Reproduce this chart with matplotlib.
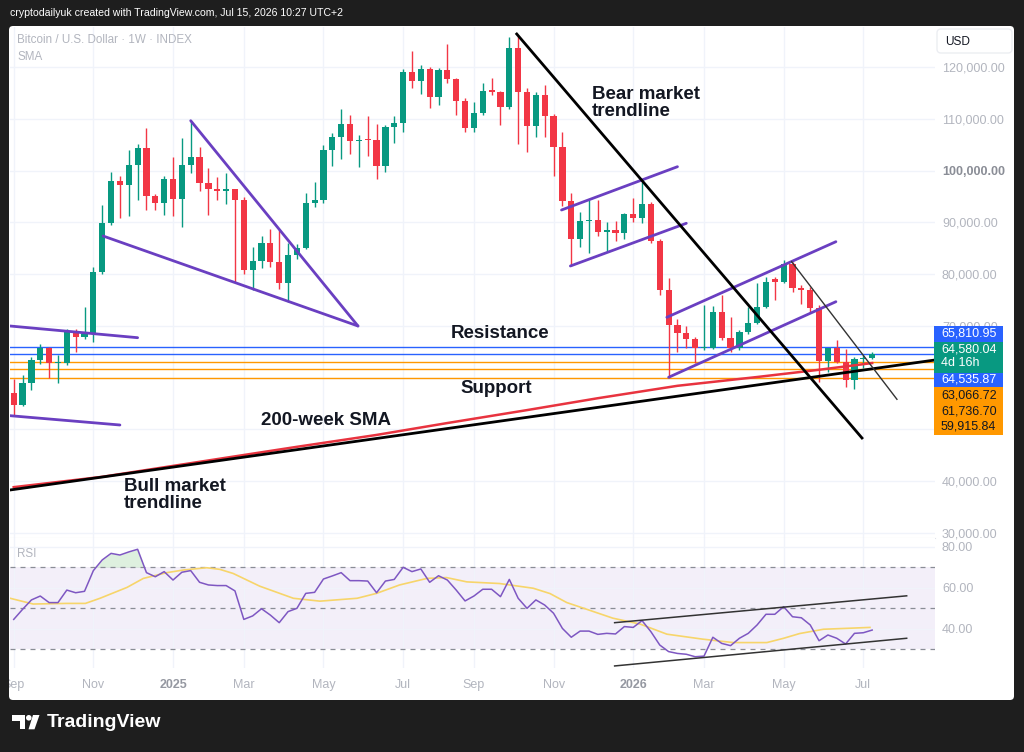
import matplotlib
matplotlib.use('Agg')
import matplotlib.pyplot as plt
from matplotlib.patches import FancyBboxPatch, Rectangle, Circle, Polygon
import numpy as np

plt.rcParams['font.family'] = ['Liberation Sans', 'DejaVu Sans']

# weekly candles, first bar = week of 2 Sep 2024
o = [57.1, 54.7, 59.0, 63.4, 65.65, 62.75, 62.9, 69.05, 67.8, 68.4,
     80.35, 89.8, 98.0, 97.2, 101.2, 104.45, 95.1, 93.7, 98.4, 94.5,
     101.2, 102.6, 97.7, 96.4, 96.1, 96.4, 94.3, 80.7, 82.5, 86.0,
     82.3, 78.3, 83.7, 85.0, 93.7, 94.3, 104.1, 106.6, 109.0, 105.7,
     106.0, 105.9, 101.0, 108.4, 109.3, 119.1, 117.4, 119.6, 114.3, 119.5,
     117.7, 113.5, 108.2, 111.2, 115.4, 115.3, 112.3, 123.7, 115.3, 108.6,
     114.6, 110.6, 104.6, 94.2, 86.7, 90.3, 90.5, 88.2, 88.5, 87.9,
     91.6, 90.9, 93.6, 86.5, 76.9, 70.2, 68.6, 67.4, 65.65, 65.8,
     72.7, 67.6, 65.65, 68.9, 70.6, 73.7, 79.0, 78.5, 82.0, 77.3,
     76.9, 73.4, 63.25, 65.65, 63.06, 59.5, 63.5, 63.7]
h = [59.7, 60.5, 64.0, 66.5, 65.9, 64.4, 69.3, 69.4, 73.6, 81.4,
     93.4, 99.7, 99.0, 104.0, 105.2, 108.3, 95.5, 99.0, 102.7, 106.3,
     109.7, 104.6, 100.6, 98.7, 99.5, 96.5, 95.0, 85.3, 87.4, 88.7,
     88.5, 86.0, 85.9, 95.6, 97.9, 105.0, 107.3, 111.9, 110.8, 106.9,
     110.6, 109.0, 108.8, 110.6, 119.7, 123.2, 120.4, 120.0, 119.8, 124.5,
     117.9, 114.0, 113.3, 116.9, 118.0, 115.5, 125.9, 126.0, 115.9, 115.3,
     116.6, 111.0, 107.4, 95.7, 92.0, 94.3, 94.3, 90.1, 90.3, 91.9,
     94.7, 97.9, 93.9, 86.7, 79.2, 71.3, 70.0, 67.8, 74.1, 73.8,
     76.0, 71.8, 69.2, 73.7, 78.2, 79.4, 79.5, 82.7, 82.3, 77.9,
     77.6, 74.0, 65.8, 67.3, 65.5, 63.9, 64.4, 65.0]
l = [52.8, 54.5, 57.5, 62.6, 59.9, 58.9, 62.4, 65.0, 67.4, 66.9,
     80.0, 89.5, 90.8, 91.2, 94.3, 92.4, 92.4, 91.4, 91.2, 89.2,
     99.6, 96.1, 91.4, 94.3, 93.6, 78.5, 80.1, 76.9, 81.1, 81.4,
     77.1, 74.6, 83.0, 84.8, 93.0, 93.7, 100.9, 102.2, 103.2, 100.7,
     102.8, 98.4, 99.8, 105.3, 107.5, 115.9, 114.8, 112.1, 112.7, 116.9,
     110.8, 107.5, 107.4, 110.8, 114.6, 108.8, 111.9, 105.2, 103.7, 106.6,
     106.6, 99.0, 93.2, 81.6, 85.3, 84.0, 87.4, 84.5, 86.5, 86.7,
     90.1, 89.9, 86.0, 76.0, 59.9, 65.0, 65.7, 62.8, 65.3, 65.6,
     67.3, 65.0, 65.3, 68.5, 70.3, 73.5, 74.9, 78.3, 76.6, 74.2,
     72.7, 59.2, 61.1, 62.75, 58.1, 57.7, 61.8, 63.5]
c = [54.7, 59.0, 63.4, 65.65, 62.75, 62.9, 69.05, 67.8, 68.4, 80.35,
     89.8, 98.0, 97.2, 101.2, 104.45, 95.1, 93.7, 98.4, 94.5, 101.2,
     102.6, 97.7, 96.4, 96.1, 96.4, 94.3, 80.7, 82.5, 86.0, 82.3,
     78.3, 83.7, 85.0, 93.7, 94.3, 104.1, 106.6, 109.0, 105.7, 106.0,
     105.9, 101.0, 108.4, 109.3, 119.1, 117.4, 119.6, 114.3, 119.5, 117.7,
     113.5, 108.2, 111.2, 115.4, 115.3, 112.3, 123.7, 115.3, 108.6, 114.6,
     110.6, 104.6, 94.2, 86.7, 90.3, 90.5, 88.2, 88.5, 87.9, 91.6,
     90.9, 93.6, 86.5, 76.9, 70.2, 68.6, 67.4, 65.65, 65.8, 72.7,
     67.6, 65.65, 68.9, 70.6, 73.7, 78.5, 78.5, 82.0, 77.3, 76.9,
     73.4, 63.25, 65.65, 63.06, 59.5, 63.5, 63.7, 64.58004]

# 200-week SMA read at a few bars
sma_bar = [0, 10, 21, 32, 41, 49, 58, 66, 75, 84, 91, 97]
sma_val = [38800, 40800, 43700, 46600, 48900, 51200, 53700, 56000, 58400, 60100, 61500, 62800]

# RSI (14) and its moving average
rsi = [44.6, 49.5, 54.1, 56.0, 52.8, 52.8, 58.9, 57.6, 58.3, 68.4,
       73.6, 76.8, 76.0, 77.5, 78.8, 67.4, 65.4, 67.9, 63.8, 67.6,
       68.4, 62.7, 61.4, 61.1, 61.1, 58.5, 44.6, 46.3, 49.8, 46.7,
       43.0, 48.4, 50.0, 57.3, 57.8, 64.3, 65.8, 67.4, 63.5, 63.5,
       63.3, 57.6, 63.3, 64.1, 70.0, 67.9, 69.2, 62.7, 65.9, 63.8,
       58.9, 53.6, 56.0, 59.3, 59.3, 55.7, 64.1, 54.9, 50.0, 54.1,
       51.6, 47.6, 40.2, 35.9, 38.9, 38.9, 37.3, 37.8, 37.5, 41.1,
       40.7, 44.0, 38.6, 32.1, 28.9, 28.0, 27.6, 26.4, 26.7, 35.9,
       32.9, 31.8, 35.4, 37.8, 41.9, 47.1, 47.1, 50.8, 45.9, 45.4,
       41.9, 34.2, 37.0, 35.4, 32.6, 37.8, 38.1, 39.4]
rsi_ma_bar = [-0.4, 2.2, 6.0, 8.1, 9.75, 12.8, 14.65, 17.3, 19.2, 21.8, 23.3, 24.8,
              27.8, 31.6, 34.6, 38.8, 41.0, 43.6, 46.7, 48.9, 51.2, 54.9, 58.7,
              60.6, 62.5, 64.7, 67.7, 70.8, 73.8, 77.8, 81.3, 85.1, 87.0, 88.8,
              91.5, 94.5, 96.75]
rsi_ma_val = [54.9, 52.1, 52.4, 52.4, 54.9, 60.2, 64.6, 67.4, 68.7, 69.8, 69.0, 67.0,
              60.8, 54.9, 53.5, 54.9, 57.3, 61.4, 64.6, 65.0, 62.9, 62.1, 59.8,
              57.2, 52.8, 49.6, 45.2, 42.3, 37.4, 35.0, 33.3, 33.3, 35.4, 37.7,
              39.8, 40.3, 40.7]

# horizontal levels
blue_levels = [65810.95, 64535.87]
orange_levels = [63066.72, 61736.70, 59915.84]
last_price = 64580.04

# drawings (bar index, price)
purple_lines = [
    [(-0.42, 69966), (14.0, 67704)],
    [(-0.42, 52620), (12.0, 50820)],
    [(20.0, 109671), (38.9, 69966)],
    [(10.1, 87372), (38.9, 69966)],
    [(61.9, 92401), (75.0, 100775)],
    [(62.9, 81570), (76.0, 89829)],
    [(73.8, 71650), (92.9, 86270)],
    [(74.0, 60046), (92.9, 74666)],
]
bear_line = [(56.84, 126439), (95.85, 48305)]
bull_line = [(-0.42, 38249), (104.1, 63391)]
thin_line = [(87.9, 82402), (99.8, 55790)]
rsi_lines = [[(67.9, 43.0), (100.9, 56.1)], [(67.9, 21.9), (100.9, 35.4)]]

month_bars = [0, 9, 18, 26, 35, 44, 52, 61, 70, 78, 87, 96]
month_labels = ['Sep', 'Nov', '2025', 'Mar', 'May', 'Jul', 'Sep', 'Nov', '2026', 'Mar', 'May', 'Jul']

price_ticks = [30000, 40000, 50000, 60000, 70000, 80000, 90000, 100000, 110000, 120000]
hidden_ticks = [50000, 60000]  # covered by the price labels

GREEN = '#089981'
RED = '#f23645'
PURPLE = '#6a3fc1'
GRID = '#f0f3fa'
LBL = '#b2b5be'

W, H = 1024, 752
fig = plt.figure(figsize=(10.24, 7.52), dpi=100)
fig.patch.set_facecolor('#1e1e1e')

# background frame
bg = fig.add_axes([0, 0, 1, 1], zorder=-5)
bg.set_xlim(0, W)
bg.set_ylim(H, 0)
bg.axis('off')
bg.add_patch(FancyBboxPatch((9, 26), 1005, 674, boxstyle='round,pad=0,rounding_size=4',
                            fc='white', ec='none'))
bg.text(10, 13, 'cryptodailyuk created with TradingView.com, Jul 15, 2026 10:27 UTC+2',
        color='white', fontsize=7.6, va='center', ha='left')

# main pane
ax = fig.add_axes([10 / W, 1 - 538 / H, 925 / W, 511 / H])
rax = fig.add_axes([10 / W, 1 - 668 / H, 925 / W, 130 / H])

idx = np.arange(len(c))
O = np.array(o) * 1000
Hh = np.array(h) * 1000
L = np.array(l) * 1000
C = np.array(c) * 1000
up = C >= O
cols = [GREEN if u else RED for u in up]

ax.vlines(idx, L, Hh, color=cols, lw=1, zorder=3)
body = np.maximum(np.abs(C - O), 250)
ax.bar(idx, body, bottom=np.minimum(O, C), width=0.7, color=cols, zorder=4)

for lv in blue_levels:
    ax.axhline(lv, color='#2962ff', lw=1, zorder=2)
for lv in orange_levels:
    ax.axhline(lv, color='#ff9800', lw=1, zorder=2)

ax.plot(sma_bar, sma_val, color='#e8333f', lw=1.8, zorder=5)

for seg in purple_lines:
    ax.plot([seg[0][0], seg[1][0]], [seg[0][1], seg[1][1]], color=PURPLE, lw=2, zorder=6,
            solid_capstyle='round')
ax.plot([p[0] for p in bear_line], [p[1] for p in bear_line], color='black', lw=2, zorder=6)
ax.plot([p[0] for p in bull_line], [p[1] for p in bull_line], color='black', lw=2, zorder=6)
ax.plot([p[0] for p in thin_line], [p[1] for p in thin_line], color='#333333', lw=1, zorder=6)

xl = (-0.42, 104.1)
ax.set_xlim(*xl)
ax.set_ylim(28965, 127793)
ax.yaxis.tick_right()
ax.set_yticks(price_ticks)
ax.set_yticklabels(['' if v in hidden_ticks else f'{v:,.2f}' for v in price_ticks])
for t, v in zip(ax.get_yticklabels(), price_ticks):
    t.set_color('#8a8d96' if v == 100000 else LBL)
    if v == 100000:
        t.set_fontweight('bold')
ax.tick_params(axis='y', length=0, pad=5, labelsize=9)
ax.set_xticks(month_bars)
ax.tick_params(axis='x', length=0, labelbottom=False)
ax.grid(color=GRID, lw=1, zorder=0)
for s in ax.spines.values():
    s.set_visible(False)
ax.spines['bottom'].set_visible(True)
ax.spines['bottom'].set_color('#e0e3eb')

ann = dict(fontsize=13.5, fontweight='bold', color='#131722', zorder=8)
ax.text(65.35, 113191, 'Bear market\ntrendline', ha='left', va='center', linespacing=1.0, **ann)
ax.text(54.95, 68419, 'Resistance', ha='center', va='center', **ann)
ax.text(54.55, 57782, 'Support', ha='center', va='center', **ann)
ax.text(35.3, 51593, '200-week SMA', ha='center', va='center', **ann)
ax.text(12.46, 37377, 'Bull market\ntrendline', ha='left', va='center', linespacing=1.0, **ann)

ax.text(0.008, 0.975, 'Bitcoin / U.S. Dollar · 1W · INDEX', transform=ax.transAxes,
        fontsize=8.4, color=LBL, va='center')
ax.text(0.008, 0.942, 'SMA', transform=ax.transAxes, fontsize=8.4, color=LBL, va='center')

# RSI pane
rsi_a = np.array(rsi)
rax.axhspan(30, 70, color='#7e57c2', alpha=0.09, lw=0, zorder=1)
rax.fill_between(idx, 70, rsi_a, where=rsi_a > 70, interpolate=True, color='#4caf50',
                 alpha=0.18, lw=0, zorder=2)
for lv in [70, 50, 30]:
    rax.axhline(lv, color='#8a8d96', lw=0.9, ls=(0, (4, 4)), zorder=2)
rax.plot(rsi_ma_bar, rsi_ma_val, color='#f7d56a', lw=1.2, zorder=3)
rax.plot(idx, rsi_a, color='#7e57c2', lw=1.1, zorder=4)
for seg in rsi_lines:
    rax.plot([seg[0][0], seg[1][0]], [seg[0][1], seg[1][1]], color='#333333', lw=1.1, zorder=5)
rax.set_xlim(*xl)
rax.set_ylim(20.9, 84.3)
rax.yaxis.tick_right()
rax.set_yticks([40, 60, 80])
rax.set_yticklabels(['40.00', '60.00', '80.00'])
rax.tick_params(axis='y', length=0, pad=5, labelsize=9, labelcolor=LBL)
rax.set_xticks(month_bars)
rax.set_xticklabels(month_labels)
rax.tick_params(axis='x', length=0, pad=8, labelsize=9, labelcolor=LBL)
for t in rax.get_xticklabels():
    if t.get_text() in ('2025', '2026'):
        t.set_fontweight('bold')
        t.set_color('#9598a1')
rax.grid(color=GRID, lw=1, zorder=0)
for s in rax.spines.values():
    s.set_visible(False)
rax.text(0.008, 0.88, 'RSI', transform=rax.transAxes, fontsize=8.4, color=LBL, va='center')

# front overlay: price labels, clipping strip, logo
fo = fig.add_axes([0, 0, 1, 1], zorder=20)
fo.set_xlim(0, W)
fo.set_ylim(H, 0)
fo.axis('off')
fo.patch.set_alpha(0)
fo.add_patch(Rectangle((0, 26), 9.3, 674, fc='#1e1e1e', ec='none'))

fo.add_patch(FancyBboxPatch((937, 29), 75, 24, boxstyle='round,pad=0,rounding_size=4',
                            fc='white', ec='#eceef2', lw=1))
fo.text(945, 42, 'USD', fontsize=8.6, color='#131722', va='center')

boxes = [(326, 341.7, '#2962ff'), (341.7, 373.3, GREEN), (373.3, 386.7, '#2962ff'),
         (386.7, 435, '#ff9800')]
for y0, y1, col in boxes:
    fo.add_patch(Rectangle((934, y0), 69, y1 - y0, fc=col, ec='none'))
lab = [(f'{blue_levels[0]:,.2f}', 333.8, 'white'), (f'{last_price:,.2f}', 349.5, 'white'),
       ('4d 16h', 363.5, 'white'), (f'{blue_levels[1]:,.2f}', 380, 'white')]
lab += [(f'{v:,.2f}', y, '#131722') for v, y in zip(orange_levels, [395.5, 411, 426.5])]
for s, y, col in lab:
    fo.text(941, y, s, fontsize=9, color=col, va='center', ha='left')

# TradingView logo
fo.add_patch(Polygon([(12, 715), (25, 715), (25, 729.3), (19.5, 729.3), (19.5, 720.5), (12, 720.5)],
                     closed=True, fc='white', ec='none'))
fo.add_patch(Circle((28.8, 717.8), 2.8, fc='white', ec='none'))
fo.add_patch(Polygon([(33, 715), (39.5, 715), (34.5, 729.3), (28.5, 729.3)],
                     closed=True, fc='white', ec='none'))
fo.text(47, 722.5, 'TradingView', fontsize=14, fontweight='bold', color='white', va='center')

fig.savefig('out.png', dpi=100, facecolor=fig.get_facecolor())
